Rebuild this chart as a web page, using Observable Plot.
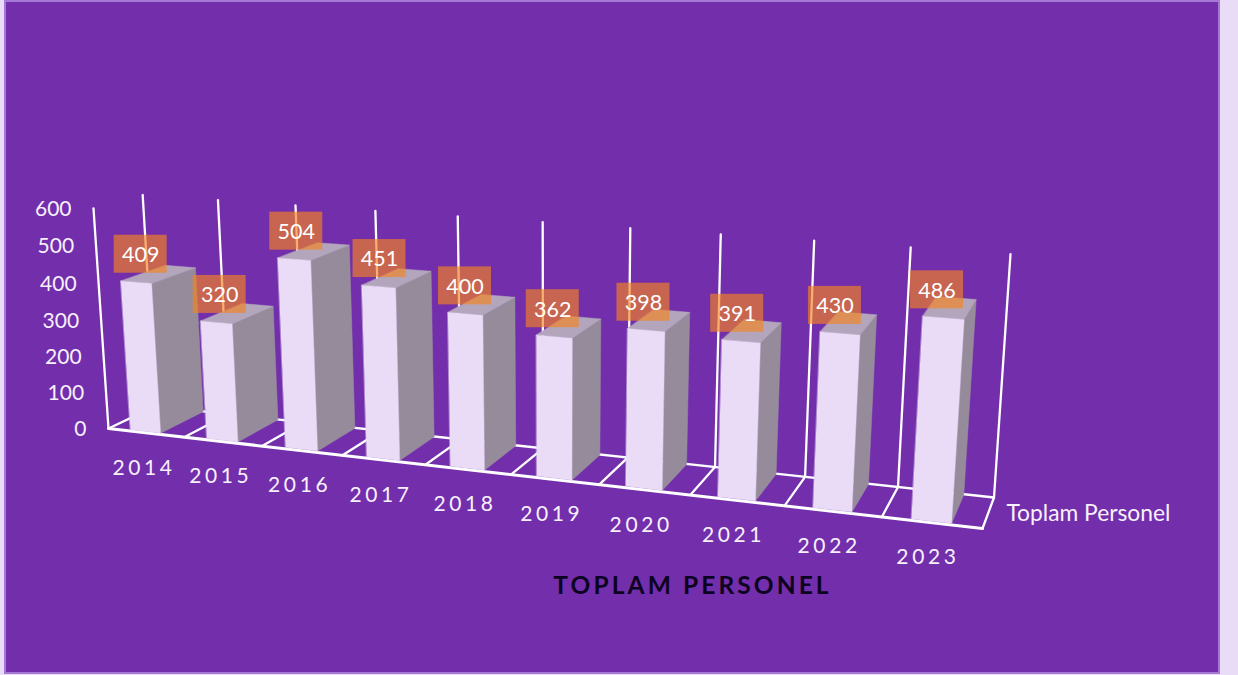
<!DOCTYPE html>
<html>
<head>
<meta charset="utf-8">
<script src="https://cdn.jsdelivr.net/npm/d3@7"></script>
<script src="https://cdn.jsdelivr.net/npm/@observablehq/plot@0.6"></script>
<style>
html,body{margin:0;padding:0;background:#E9DCF6;overflow:hidden}
svg{display:block}
</style>
</head>
<body>
<script>
const years = [2014, 2015, 2016, 2017, 2018, 2019, 2020, 2021, 2022, 2023];
const values = [409, 320, 504, 451, 400, 362, 398, 391, 430, 486];
const valueTicks = [0, 100, 200, 300, 400, 500, 600];
const seriesName = "Toplam Personel";
const chartTitle = "TOPLAM PERSONEL";

// perspective camera: category position u (0..10), depth d (0..1), value v
const n = years.length, vMax = 600;
const cam = {p: 0, q: 0, r: 0};
(function calibrate() {
  const [x0, y0, x1, y1, x2, y2, x3, y3] = [108, 428, 982, 528, 993.5, 497, 155, 405.6];
  const dx1 = x1 - x2, dy1 = y1 - y2, dx2 = x3 - x2, dy2 = y3 - y2;
  const sx = x0 - x1 + x2 - x3, sy = y0 - y1 + y2 - y3;
  const det = dx1 * dy2 - dx2 * dy1;
  cam.g = (sx * dy2 - dx2 * sy) / det;
  cam.h = (dx1 * sy - sx * dy1) / det;
  cam.a = x1 - x0 + cam.g * x1; cam.b = x3 - x0 + cam.h * x3; cam.c = x0;
  cam.d = y1 - y0 + cam.g * y1; cam.e = y3 - y0 + cam.h * y3; cam.f = y0;
  const W = 1 + cam.g + cam.h;
  cam.r = (-15 - 16.5 * W) / 917;
  cam.p = -15 + 93 * cam.r;
  cam.q = -220 + 208 * cam.r;
})();
function project(u, d, v) {
  const s = u / n, t = d, k = v / vMax;
  const W = cam.g * s + cam.h * t + 1 + cam.r * k;
  return {
    x: (cam.a * s + cam.b * t + cam.c + cam.p * k) / W,
    y: (cam.d * s + cam.e * t + cam.f + cam.q * k) / W
  };
}

// wireframe
const segments = [];
const seg = (a, b, w) => segments.push({x1: a.x, y1: a.y, x2: b.x, y2: b.y, w});
for (let i = 0; i <= n; i++) {
  seg(project(i, 1, 0), project(i, 1, vMax), 2.3);
  seg(project(i, 0, 0), project(i, 1, 0), 2.3);
}
seg(project(0, 0, 0), project(0, 0, vMax), 2.3);
seg(project(0, 1, 0), project(n, 1, 0), 2.3);
seg(project(0, 0, 0), project(n, 0, 0), 3);

// bar faces, each a quad drawn as a two-row area
const barShift = i => -0.02 + 0.002 * i;
const barL = 0.3, barR = 0.7, d0 = 0.03, d1 = 0.97;
const faces = [];
function quad(id, kind, p, q, r, s) {
  faces.push({id, kind, x1: p.x, y1: p.y, x2: s.x, y2: s.y});
  faces.push({id, kind, x1: q.x, y1: q.y, x2: r.x, y2: r.y});
}
values.forEach((v, i) => {
  const L = i + barL + barShift(i), R = i + barR + barShift(i);
  quad(`s${i}`, "side", project(R, d0, v), project(R, d1, v), project(R, d1, 0), project(R, d0, 0));
  quad(`t${i}`, "top", project(L, d1, v), project(R, d1, v), project(R, d0, v), project(L, d0, v));
  quad(`f${i}`, "front", project(L, d0, v), project(R, d0, v), project(R, d0, 0), project(L, d0, 0));
});
const faceColor = {front: "#EADCF6", side: "#958B9B", top: "#B3A6BC"};
const faceStroke = {front: "#E0D3EC", side: "#9A90A0", top: "#B3A6BC"};

const labelRows = values.map((v, i) => {
  const p = project(i + 0.5 + barShift(i), d0, v);
  const cx = p.x + 4 - 1.2 * i, cy = p.y - 28.5;
  return {v, cx, cy, x1: cx - 26.5, x2: cx + 26.5, y1: cy - 19, y2: cy + 19};
});
const yearRows = years.map((y, i) => {
  const p = project(i + 0.5, 0, 0);
  return {y, cx: p.x - 2 - 0.2 * i, cy: p.y + 35};
});
const tickRows = valueTicks.map(v => {
  const p = project(0, 0, v);
  return {v, cx: p.x - 22, cy: p.y + 0.5};
});
const edge = project(n, 0.5, 0);

const textFill = "#F7F1FC";
const plot = Plot.plot({
  width: 1238, height: 675,
  margin: 0,
  x: {type: "linear", domain: [0, 1238], range: [0, 1238], axis: null},
  y: {type: "linear", domain: [0, 675], range: [0, 675], axis: null},
  style: {background: "#E9DCF6", fontFamily: "Lato, Carlito, sans-serif"},
  marks: [
    Plot.rect([{}], {x1: () => 5, x2: () => 1219, y1: () => 1, y2: () => 673, fill: "#732EAC", stroke: "#A678D6", strokeWidth: 2}),
    Plot.link(segments, {x1: "x1", y1: "y1", x2: "x2", y2: "y2", stroke: "#FFFFFF", strokeWidth: "w", strokeLinecap: "round"}),
    Plot.area(faces, {x1: "x1", y1: "y1", x2: "x2", y2: "y2", z: "id", curve: "linear",
      fill: d => faceColor[d.kind], stroke: d => faceStroke[d.kind], strokeWidth: 0.5}),
    Plot.rect(labelRows, {x1: "x1", x2: "x2", y1: "y1", y2: "y2", fill: "#F5821F", fillOpacity: 0.65}),
    Plot.text(labelRows, {x: "cx", y: "cy", text: d => String(d.v), fill: "#FFFFFF", fontSize: 21.5, dy: 1}),
    Plot.text(tickRows, {x: "cx", y: "cy", text: d => String(d.v), fill: textFill, fontSize: 21, textAnchor: "end"}),
    Plot.text(yearRows, {x: "cx", y: "cy", text: d => String(d.y), fill: textFill, fontSize: 21}),
    Plot.text([seriesName], {x: () => edge.x + 18, y: () => edge.y + 1, text: d => d, fill: textFill, fontSize: 22.8, textAnchor: "start"}),
    Plot.text([chartTitle], {x: () => 692, y: () => 586, text: d => d, fill: "#0B0320", fontSize: 24.5, fontWeight: 700})
  ]
});
d3.select(plot).selectAll("text").each(function () {
  const t = this.textContent;
  if (years.map(String).includes(t)) this.style.letterSpacing = "3.6px";
  if (t === chartTitle) this.style.letterSpacing = "3.1px";
});
document.body.appendChild(plot);
</script>
</body>
</html>
